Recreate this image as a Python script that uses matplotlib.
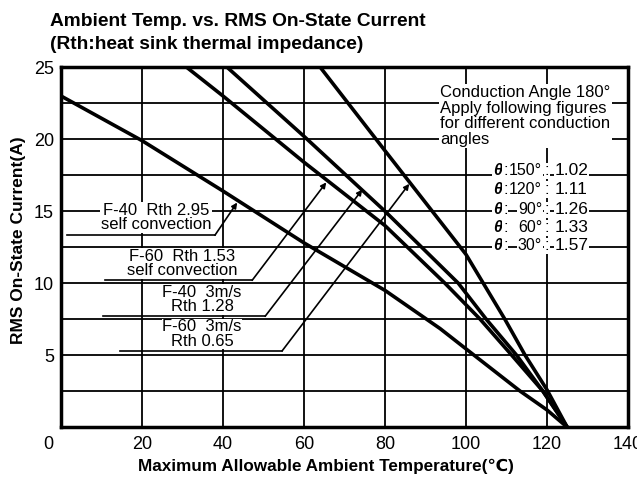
import numpy as np
import matplotlib.pyplot as plt
from matplotlib.transforms import ScaledTranslation

plt.rcParams['font.family'] = ['Liberation Sans', 'DejaVu Sans']

# curve points (ambient temp, current)
t1 = [0, 20, 40, 60, 80, 93.6, 102, 113.4, 120, 125]
i1 = [23, 19.9, 16.4, 12.8, 9.5, 6.85, 5, 2.5, 1.2, 0]
t2 = [31, 40, 60, 80, 94.8, 103.5, 111.3, 119, 125]
i2 = [25, 23, 18.4, 14.0, 10, 7.5, 5, 2.5, 0]
t3 = [41, 60, 80, 98.1, 105, 112.5, 119, 125]
i3 = [25, 20.2, 15.0, 10, 7.5, 5, 2.5, 0]
t4 = [64, 80, 100, 109.6, 114.6, 120, 125]
i4 = [25, 19.2, 12.0, 7.5, 5, 2.6, 0]

labels = ["F-40  Rth 2.95\nself convection",
          "F-60  Rth 1.53\nself convection",
          "F-40  3m/s\nRth 1.28",
          "F-60  3m/s\nRth 0.65"]
label_xy = [(23.5, 13.55), (29.9, 10.35), (34.8, 7.85), (34.8, 5.45)]
underline = [(1.5, 38, 13.33), (10.9, 47.2, 10.2), (10.4, 50.4, 7.7), (14.6, 54.6, 5.3)]
arrow_tip = [(43.5, 15.6), (65.5, 17.0), (74.4, 16.5), (86.0, 16.9)]

angles = ["150°", "120°", "90°", "60°", "30°"]
factors = ["1.02", "1.11", "1.26", "1.33", "1.57"]
row_y = [17.8, 16.5, 15.1, 13.85, 12.6]

fig = plt.figure(figsize=(6.37, 4.8), dpi=100)
ax = fig.add_axes([0.0958, 0.110, 0.890, 0.750])

ax.set_xlim(0, 140)
ax.set_ylim(0, 25)
ax.set_xticks(np.arange(0, 141, 20))
ax.set_yticks([5, 10, 15, 20, 25])
ax.set_yticks(np.arange(0, 25, 2.5), minor=True)
ax.grid(True, which='both', color='black', lw=1.3)
ax.tick_params(which='both', length=0)
ax.tick_params(axis='x', pad=6, labelsize=13)
ax.tick_params(axis='y', pad=5, labelsize=13)
x0 = ax.get_xticklabels()[0]
x0.set_transform(x0.get_transform() + ScaledTranslation(-0.13, 0, fig.dpi_scale_trans))
for s in ax.spines.values():
    s.set_linewidth(2.5)

for t, i in [(t1, i1), (t2, i2), (t3, i3), (t4, i4)]:
    ax.plot(t, i, color='black', lw=2.6, solid_capstyle='butt')

for lab, (lx, ly), (u0, u1, uy), tip in zip(labels, label_xy, underline, arrow_tip):
    ax.plot([u0, u1], [uy, uy], color='black', lw=1.2)
    ax.annotate('', xy=tip, xytext=(u1, uy),
                arrowprops=dict(arrowstyle='-|>', lw=1.2, color='black',
                                mutation_scale=8, shrinkA=0, shrinkB=0))
    ax.text(lx, ly, lab, ha='center', va='bottom', fontsize=12,
            linespacing=0.95,
            bbox=dict(facecolor='white', edgecolor='none', pad=0.5))

ax.text(93.6, 23.75, "Conduction Angle 180°\nApply following figures\nfor different conduction\nangles",
        ha='left', va='top', fontsize=12, linespacing=1.05,
        bbox=dict(facecolor='white', edgecolor='none', pad=1))

box = dict(facecolor='white', edgecolor='none', pad=0.5)
for a, f, y in zip(angles, factors, row_y):
    ax.text(106.7, y, "θ", ha='left', va='center', fontsize=11.5,
            style='italic', fontweight='bold', bbox=box)
    ax.text(109.7, y, ":", ha='center', va='center', fontsize=12, bbox=box)
    ax.text(118.8, y, a, ha='right', va='center', fontsize=11.5, bbox=box)
    ax.text(120.0, y, ":", ha='center', va='center', fontsize=12, bbox=box)
    ax.text(121.8, y, f, ha='left', va='center', fontsize=12.5, bbox=box)

ax.set_xlabel("Maximum Allowable Ambient Temperature(℃)", fontsize=12.3,
              fontweight='bold')
ax.xaxis.set_label_coords(0.467, -0.088)
ax.set_ylabel("RMS On-State Current(A)", fontsize=12.5, fontweight='bold')
ax.yaxis.set_label_coords(-0.062, 0.52)

fig.text(0.078, 0.973, "Ambient Temp. vs. RMS On-State Current\n(Rth:heat sink thermal impedance)",
         ha='left', va='top', fontsize=13.8, fontweight='bold', linespacing=1.5)

fig.savefig("out.png", dpi=100)
